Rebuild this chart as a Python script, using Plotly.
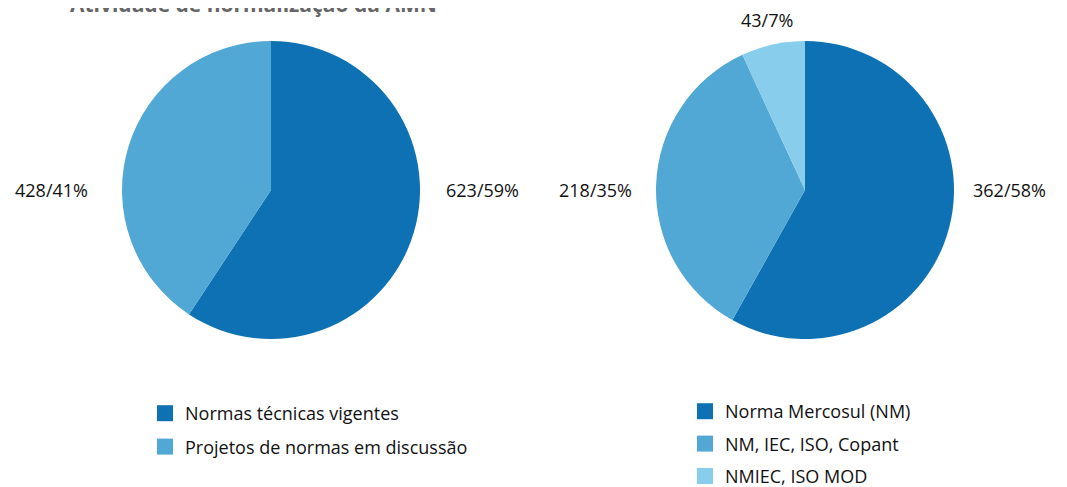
import plotly.graph_objects as go

W, H = 1067, 487

left_labels = ["Normas técnicas vigentes", "Projetos de normas em discussão"]
left_values = [623, 428]
left_pcts = [59, 41]

right_labels = ["Norma Mercosul (NM)", "NM, IEC, ISO, Copant", "NMIEC, ISO MOD"]
right_values = [362, 218, 43]
right_pcts = [58, 35, 7]

colors = ["#0e71b4", "#52a8d4", "#88cdeb"]
title_text = "Atividade de normalização da AMN"

FONT = "Open Sans"
OFF = 8  # page body margin


def px_x(p):
    return (p - OFF) / W


def px_y(p):
    return 1 - (p - OFF) / H


fig = go.Figure()
fig.add_trace(go.Pie(
    labels=left_labels, values=left_values, sort=False, direction="clockwise",
    rotation=0, marker=dict(colors=colors[:2]), textinfo="none", hoverinfo="label+value+percent",
    domain=dict(x=[px_x(122), px_x(420)], y=[px_y(339), px_y(41)]),
    showlegend=False,
))
fig.add_trace(go.Pie(
    labels=right_labels, values=right_values, sort=False, direction="clockwise",
    rotation=0, marker=dict(colors=colors), textinfo="none", hoverinfo="label+value+percent",
    domain=dict(x=[px_x(656), px_x(954)], y=[px_y(339), px_y(41)]),
    showlegend=False,
))

# legend entries (one per slice) so that the item spacing can be controlled
for i, lab in enumerate(left_labels):
    fig.add_trace(go.Scatter(x=[None], y=[None], mode="markers", name=lab,
                             marker=dict(symbol="square", size=16, color=colors[i]),
                             legend="legend", legendgroup=f"l{i}", showlegend=True))
for i, lab in enumerate(right_labels):
    fig.add_trace(go.Scatter(x=[None], y=[None], mode="markers", name=lab,
                             marker=dict(symbol="square", size=16, color=colors[i]),
                             legend="legend2", legendgroup=f"r{i}", showlegend=True))

ann = []
lab_font = dict(family=FONT, size=18, color="#111111")
ann.append(dict(x=px_x(444), y=px_y(190), xanchor="left", yanchor="middle",
                text=f"{left_values[0]}/{left_pcts[0]}%"))
ann.append(dict(x=px_x(90), y=px_y(190), xanchor="right", yanchor="middle",
                text=f"{left_values[1]}/{left_pcts[1]}%"))
ann.append(dict(x=px_x(971), y=px_y(190), xanchor="left", yanchor="middle",
                text=f"{right_values[0]}/{right_pcts[0]}%"))
ann.append(dict(x=px_x(634), y=px_y(190), xanchor="right", yanchor="middle",
                text=f"{right_values[1]}/{right_pcts[1]}%"))
ann.append(dict(x=px_x(767), y=px_y(20), xanchor="center", yanchor="middle",
                text=f"{right_values[2]}/{right_pcts[2]}%"))
for a in ann:
    a.update(xref="paper", yref="paper", showarrow=False, font=lab_font)

ann.append(dict(x=px_x(68), y=px_y(20), xref="paper", yref="paper", xanchor="left",
                yanchor="bottom", showarrow=False, text=f"<b>{title_text}</b>",
                font=dict(family=FONT, size=21, color="#666666")))

fig.update_layout(
    width=W, height=H,
    margin=dict(l=0, r=0, t=0, b=0, autoexpand=False),
    paper_bgcolor="white", plot_bgcolor="white",
    annotations=ann,
    xaxis=dict(visible=False), yaxis=dict(visible=False),
    legend=dict(x=px_x(145), y=px_y(395), xanchor="left", yanchor="top",
                tracegroupgap=7,
                font=dict(family=FONT, size=18, color="#111111"), bgcolor="rgba(0,0,0,0)"),
    legend2=dict(x=px_x(685), y=px_y(393), xanchor="left", yanchor="top",
                 tracegroupgap=6,
                 font=dict(family=FONT, size=18, color="#111111"), bgcolor="rgba(0,0,0,0)"),
)

fig.write_html("out.html")
